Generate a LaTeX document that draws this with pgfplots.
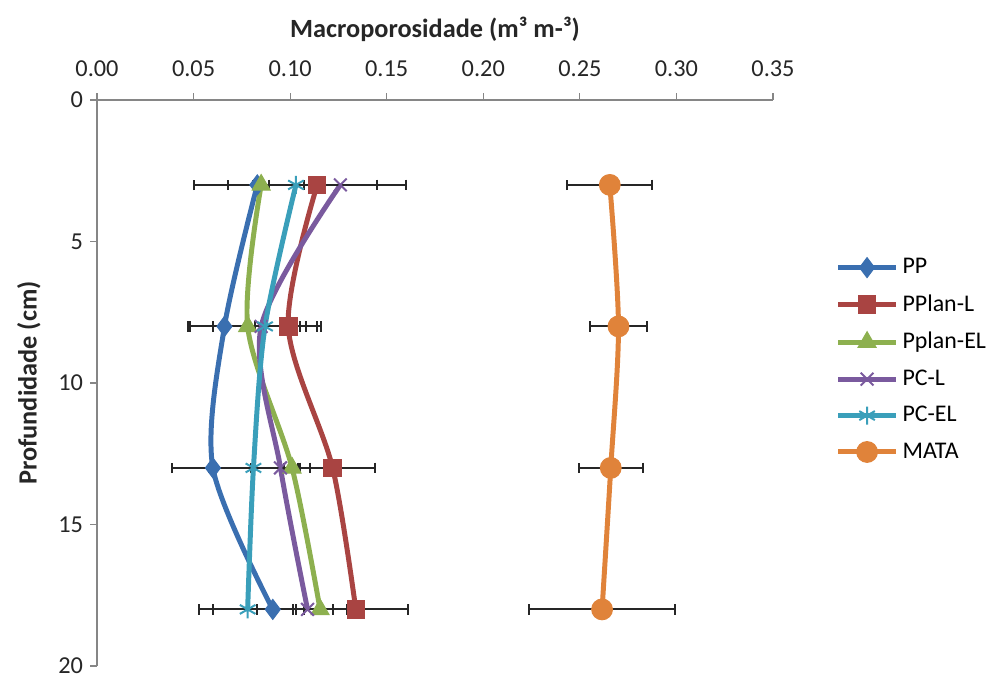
\documentclass[border=0pt]{standalone}
\usepackage{pgfplots}
\pgfplotsset{compat=1.18}
\usepackage{fontspec}
\setmainfont{Carlito}
\definecolor{cPP}{HTML}{3A6FB0}
\definecolor{cPL}{HTML}{A94442}
\definecolor{cPE}{HTML}{8DB04F}
\definecolor{cCL}{HTML}{7A5A9E}
\definecolor{cCE}{HTML}{3A9FBA}
\definecolor{cMA}{HTML}{E0833A}
\definecolor{axgray}{HTML}{868686}
\begin{document}
\begin{tikzpicture}
\useasboundingbox (0,0) rectangle (494.5bp,340bp);
\begin{axis}[
  at={(48.5bp,7bp)}, anchor=south west,
  scale only axis, width=338bp, height=283bp,
  xmin=0, xmax=0.35, ymin=0, ymax=20, y dir=reverse,
  axis x line=top, axis y line=left,
  axis line style={-, draw=axgray, line width=0.6pt},
  xtick={0,0.05,...,0.35}, ytick={0,5,10,15,20},
  tick style={draw=axgray, line width=0.6pt},
  tick align=outside, major tick length=3.5bp,
  xticklabel style={/pgf/number format/.cd, fixed, fixed zerofill, precision=2},
  /pgf/number format/assume math mode=true,
  ticklabel style={font=\fontsize{12.2}{14}\selectfont, text=black!85},
  xticklabel shift=4.5bp,
  xlabel={\textbf{Macroporosidade (m³ m-³)}},
  ylabel={\textbf{Profundidade (cm)}},
  label style={font=\fontsize{13.2}{15}\selectfont, text=black!85},
  xlabel shift=3bp,
  ylabel shift=2bp,
  legend style={draw=none, at={(1.092,0.541)}, anchor=west, font=\fontsize{12}{14}\selectfont, row sep=5bp, inner sep=0pt},
  legend cell align=left,
  legend image code/.code={\draw[mark repeat=2,mark phase=2,#1] plot coordinates {(0bp,0bp)(14.5bp,0bp)(29bp,0bp)};},
  every axis plot/.append style={line width=2.5pt, smooth},
  error bars/error bar style={black!85, line width=1bp},
  error bars/error mark=|,
  error bars/error mark options={black!85, line width=1bp, mark size=2.6bp},
]
\addplot[cPP, mark=diamond*, mark size=5bp, mark options={solid, fill=cPP, line width=0.5pt},
  error bars/.cd, x dir=both, x explicit] table[x=x, y=y, x error=e] {
x y e
0.083 3 0.033
0.066 8 0.019
0.060 13 0.021
0.091 18 0.031
};
\addlegendentry{PP}
\addplot[cPL, mark=square*, mark size=4.4bp, mark options={solid, fill=cPL, line width=0.5pt},
  error bars/.cd, x dir=both, x explicit] table[x=x, y=y, x error=e] {
x y e
0.114 3 0.046
0.099 8 0.017
0.122 13 0.022
0.134 18 0.027
};
\addlegendentry{PPlan-L}
\addplot[cPE, mark=triangle*, mark size=5.2bp, mark options={solid, fill=cPE, line width=0.5pt},
  error bars/.cd, x dir=both, x explicit] table[x=x, y=y, x error=e] {
x y e
0.085 3 0.004
0.078 8 0.030
0.101 13 0.004
0.1155 18 0.014
};
\addlegendentry{Pplan-EL}
\addplot[cCL, mark=x, mark size=4.5bp, mark options={solid, line width=1pt},
  error bars/.cd, x dir=both, x explicit] table[x=x, y=y, x error=e] {
x y e
0.126 3 0.019
0.085 8 0.020
0.095 13 0.0155
0.109 18 0.026
};
\addlegendentry{PC-L}
\addplot[cCE, mark=asterisk, mark size=4.5bp, mark options={solid, line width=1pt},
  error bars/.cd, x dir=both, x explicit] table[x=x, y=y, x error=e] {
x y e
0.103 3 0.014
0.087 8 0.027
0.081 13 0.023
0.078 18 0.025
};
\addlegendentry{PC-EL}
\addplot[cMA, mark=*, mark size=5.2bp, mark options={solid, fill=cMA, line width=0.5pt},
  error bars/.cd, x dir=both, x explicit] table[x=x, y=y, x error=e] {
x y e
0.2655 3 0.022
0.270 8 0.015
0.266 13 0.0166
0.2615 18 0.038
};
\addlegendentry{MATA}
\end{axis}
\end{tikzpicture}
\end{document}
